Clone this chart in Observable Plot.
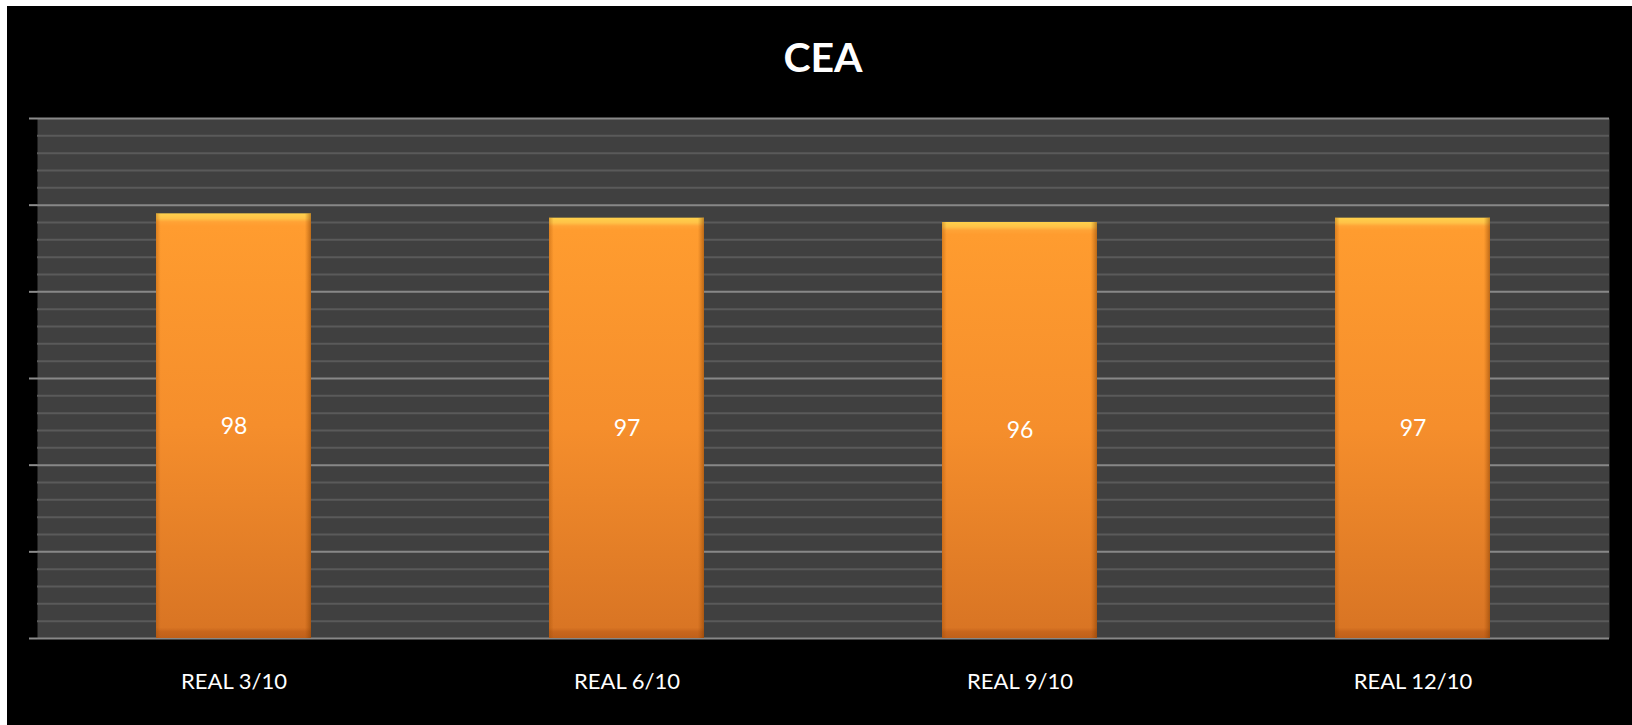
<!DOCTYPE html>
<html>
<head>
<meta charset="utf-8">
<script src="https://cdn.jsdelivr.net/npm/d3@7"></script>
<script src="https://cdn.jsdelivr.net/npm/@observablehq/plot@0.6"></script>
<style>
  html, body { margin: 0; padding: 0; background: #ffffff; }
  #card { position: absolute; left: 7px; top: 6px; width: 1625px; height: 719px; background: #000000; overflow: hidden; }
  #title { height: 94px; box-sizing: border-box; padding: 30px 23px 0 30px; text-align: center;
           font-family: Lato, "Noto Sans", sans-serif; font-weight: 700; font-size: 41px; line-height: 42px; color: #ffffff; }
  svg { display: block; }
</style>
</head>
<body>
<div id="card">
  <div id="title">CEA</div>
  <div id="chart"></div>
</div>
<script>
const categories = ["REAL 3/10", "REAL 6/10", "REAL 9/10", "REAL 12/10"];
const values = [98, 97, 96, 97];
const majorTicks = [0, 20, 40, 60, 80, 100, 120];
const minorTicks = [4, 8, 12, 16, 24, 28, 32, 36, 44, 48, 52, 56, 64, 68, 72, 76, 84, 88, 92, 96, 104, 108, 112, 116];

const data = categories.map((c, i) => ({ cat: c, value: values[i] }));

const plot = Plot.plot({
  width: 1625,
  height: 625,
  marginLeft: 30,
  marginRight: 23,
  marginTop: 18,
  marginBottom: 87,
  style: { background: "transparent", fontFamily: "Lato, 'Noto Sans', sans-serif" },
  x: { domain: categories, paddingInner: 0.605, paddingOuter: 0.3025, label: null },
  y: { domain: [0, 120], label: null },
  marks: [
    Plot.frame({ fill: "#404040", stroke: null }),
    Plot.ruleY(minorTicks, { stroke: "#5a5a5a", strokeWidth: 2 }),
    Plot.ruleY(majorTicks, { stroke: "#888888", strokeWidth: 2 }),
    Plot.axisY({ ticks: majorTicks, tickSize: 8, tickFormat: () => "", stroke: "#8c8c8c", strokeWidth: 2 }),
    Plot.ruleX([0], { frameAnchor: "left", stroke: "#8c8c8c", strokeWidth: 2 }),
    Plot.barY(data, { x: "cat", y: "value", fill: "url(#barGrad)" }),
    Plot.barY(data, { x: "cat", y: "value", fill: "url(#sideGrad)" }),
    Plot.text(data, { x: "cat", y: d => d.value / 2, text: d => String(d.value), fill: "#ffffff", fontSize: 23 }),
    Plot.axisX({ tickSize: 0, tickPadding: 35, fontSize: 22, fill: "#ffffff", stroke: null })
  ]
});

// gradient definitions for the bars
const defs = d3.select(plot).insert("defs", ":first-child");
const g1 = defs.append("linearGradient").attr("id", "barGrad").attr("x1", 0).attr("y1", 0).attr("x2", 0).attr("y2", 1);
[["0%", "#ffd24d"], ["1.2%", "#ffc247"], ["2%", "#ffa336"], ["3%", "#ff9c2f"], ["50%", "#f58e2c"], ["97.5%", "#d97524"], ["98.5%", "#c8661d"], ["100%", "#c0601a"]]
  .forEach(([o, c]) => g1.append("stop").attr("offset", o).attr("stop-color", c));
const g2 = defs.append("linearGradient").attr("id", "sideGrad").attr("x1", 0).attr("y1", 0).attr("x2", 1).attr("y2", 0);
[["0%", "rgba(150,70,0,0.35)"], ["3%", "rgba(150,70,0,0)"], ["96%", "rgba(150,70,0,0)"], ["100%", "rgba(120,55,0,0.5)"]]
  .forEach(([o, c]) => g2.append("stop").attr("offset", o).attr("stop-color", c));

document.getElementById("chart").appendChild(plot);
</script>
</body>
</html>
